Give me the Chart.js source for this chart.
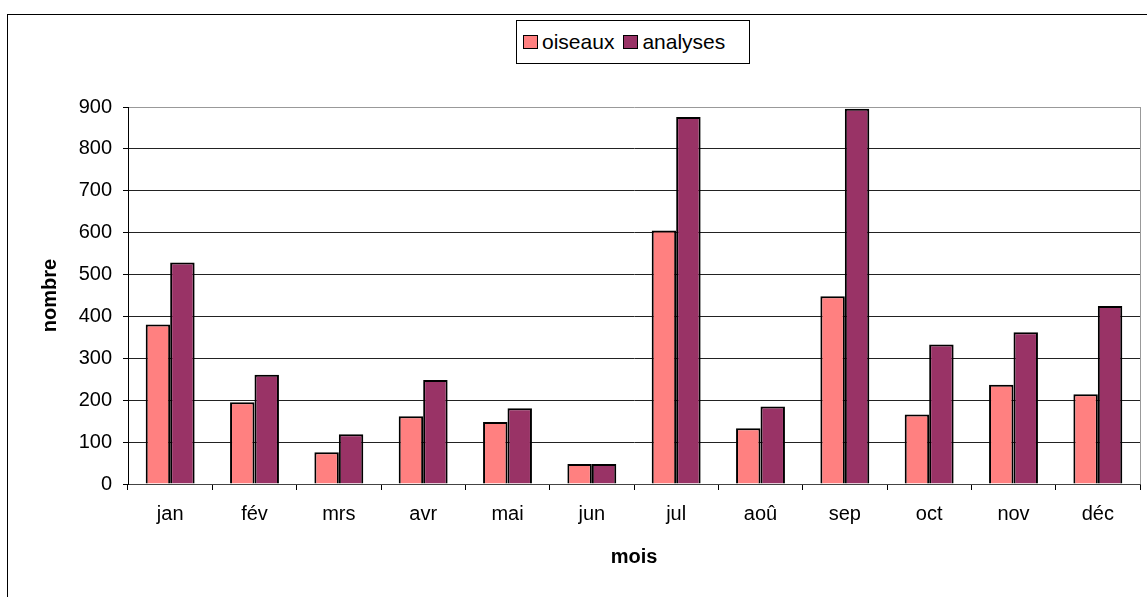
<!DOCTYPE html>
<html lang="fr">
<head>
  <meta charset="UTF-8" />
  <title>oiseaux / analyses</title>
  <script src="https://cdn.jsdelivr.net/npm/chart.js@4.4.0/dist/chart.umd.min.js"></script>
  <style>
    body { margin: 0; background: #fff; font-family: "Liberation Sans", Arial, sans-serif; }
    #wrap { position: relative; width: 1147px; height: 597px; overflow: hidden; }
    #cadre { position: absolute; left: 7px; top: 14px; width: 1300px; height: 800px; border: 1px solid #000; }
    #graphique { position: absolute; left: 0; top: 0; }
    #legende {
      position: absolute; left: 516px; top: 20px; width: 234px; height: 44px;
      border: 1px solid #000; background: #fff; box-sizing: border-box;
      display: flex; align-items: center; padding-left: 6px;
      font-size: 21px; color: #000;
    }
    .item { display: flex; align-items: center; margin-right: 9px; }
    .carre { width: 13px; height: 12px; border: 1.5px solid #000; margin-right: 4px; }
  </style>
</head>
<body>
  <div id="wrap">
    <div id="cadre"></div>
    <canvas id="graphique" width="1147" height="597"></canvas>
    <div id="legende"></div>
  </div>

<script>
  // donnees
  var mois = ["jan", "f\u00e9v", "mrs", "avr", "mai", "jun", "jul", "ao\u00fb", "sep", "oct", "nov", "d\u00e9c"];
  var oiseaux = [381, 195, 76, 162, 148, 48, 605, 133, 448, 166, 237, 214];
  var analyses = [529, 261, 119, 248, 181, 48, 876, 185, 896, 333, 362, 425];

  var couleurOiseaux = "#FF8080";
  var couleurAnalyses = "#993366";

  // bordure droite de la zone de trace
  const bordureZone = {
    id: "bordureZone",
    afterDraw(chart) {
      const a = chart.chartArea;
      const ctx = chart.ctx;
      ctx.save();
      ctx.strokeStyle = "#999";
      ctx.lineWidth = 1;
      ctx.beginPath();
      ctx.moveTo(Math.round(a.right) + 0.5, a.top);
      ctx.lineTo(Math.round(a.right) + 0.5, a.bottom);
      ctx.stroke();
      ctx.restore();
    }
  };

  const config = {
    type: "bar",
    data: {
      labels: mois,
      datasets: [
        {
          label: "oiseaux",
          data: oiseaux,
          backgroundColor: couleurOiseaux,
          borderColor: "#000",
          borderWidth: 2,
          categoryPercentage: 0.58,
          barPercentage: 1.0
        },
        {
          label: "analyses",
          data: analyses,
          backgroundColor: couleurAnalyses,
          borderColor: "#000",
          borderWidth: 2,
          categoryPercentage: 0.58,
          barPercentage: 1.0
        }
      ]
    },
    options: {
      responsive: false,
      animation: false,
      devicePixelRatio: 1,
      layout: { padding: { top: 107, left: 30, right: 7, bottom: 0 } },
      plugins: {
        legend: { display: false },
        tooltip: { enabled: false }
      },
      scales: {
        x: {
          grid: { drawOnChartArea: false, drawTicks: true, tickLength: 6, color: "#000" },
          border: { color: "#444" },
          ticks: {
            color: "#000",
            font: { family: "Liberation Sans", size: 20 },
            padding: 12
          },
          title: {
            display: true,
            text: "mois",
            color: "#000",
            font: { family: "Liberation Sans", size: 20, weight: "bold" },
            padding: { top: 0, bottom: 28 }
          },
          afterFit: function (s) { s.height = 113; }
        },
        y: {
          min: 0,
          max: 900,
          grid: {
            color: function (c) { return c.tick && c.tick.value === 900 ? "#999" : "#222"; },
            tickColor: "#000",
            tickLength: 5,
            lineWidth: 1
          },
          border: { color: "#000" },
          ticks: {
            stepSize: 100,
            color: "#000",
            font: { family: "Liberation Sans", size: 20 },
            padding: 11
          },
          title: {
            display: true,
            text: "nombre",
            color: "#000",
            font: { family: "Liberation Sans", size: 20, weight: "bold" },
            padding: { top: 8, bottom: 0 }
          },
          afterFit: function (s) { s.width = 98; }
        }
      }
    },
    plugins: [bordureZone]
  };

  var monGraphique = new Chart(document.getElementById("graphique"), config);

  // legende construite a partir des series du graphique
  var legende = document.getElementById("legende");
  monGraphique.data.datasets.forEach(function (ds) {
    var item = document.createElement("div");
    item.className = "item";
    var carre = document.createElement("span");
    carre.className = "carre";
    carre.style.background = ds.backgroundColor;
    var texte = document.createElement("span");
    texte.textContent = ds.label;
    item.appendChild(carre);
    item.appendChild(texte);
    legende.appendChild(item);
  });
</script>
</body>
</html>
